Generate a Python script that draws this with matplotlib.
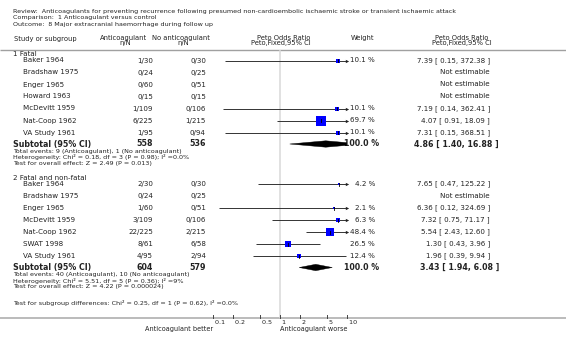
import matplotlib
matplotlib.use("Agg")
import matplotlib.pyplot as plt
import numpy as np
from matplotlib.patches import Polygon

nan = np.nan

title_lines = [
    "Review:  Anticoagulants for preventing recurrence following presumed non-cardioembolic ischaemic stroke or transient ischaemic attack",
    "Comparison:  1 Anticoagulant versus control",
    "Outcome:  8 Major extracranial haemorrhage during follow up",
]

# group 1: fatal
fatal_label = "1 Fatal"
fatal_studies = ["Baker 1964", "Bradshaw 1975", "Enger 1965", "Howard 1963",
                 "McDevitt 1959", "Nat-Coop 1962", "VA Study 1961"]
fatal_ev_ac = [1, 0, 0, 0, 1, 6, 1]
fatal_n_ac = [30, 24, 60, 15, 109, 225, 95]
fatal_ev_no = [0, 0, 0, 0, 0, 1, 0]
fatal_n_no = [30, 25, 51, 15, 106, 215, 94]
fatal_weight = [10.1, nan, nan, nan, 10.1, 69.7, 10.1]
fatal_or = [7.39, nan, nan, nan, 7.19, 4.07, 7.31]
fatal_lo = [0.15, nan, nan, nan, 0.14, 0.91, 0.15]
fatal_hi = [372.38, nan, nan, nan, 362.41, 18.09, 368.51]
fatal_pooled = [4.86, 1.40, 16.88]
fatal_notes = [
    "Heterogeneity: Chi\u00b2 = 0.18, df = 3 (P = 0.98); I\u00b2 =0.0%",
    "Test for overall effect: Z = 2.49 (P = 0.013)",
]

# group 2: fatal and non-fatal
all_label = "2 Fatal and non-fatal"
all_studies = ["Baker 1964", "Bradshaw 1975", "Enger 1965", "McDevitt 1959",
               "Nat-Coop 1962", "SWAT 1998", "VA Study 1961"]
all_ev_ac = [2, 0, 1, 3, 22, 8, 4]
all_n_ac = [30, 24, 60, 109, 225, 61, 95]
all_ev_no = [0, 0, 0, 0, 2, 6, 2]
all_n_no = [30, 25, 51, 106, 215, 58, 94]
all_weight = [4.2, nan, 2.1, 6.3, 48.4, 26.5, 12.4]
all_or = [7.65, nan, 6.36, 7.32, 5.54, 1.30, 1.96]
all_lo = [0.47, nan, 0.12, 0.75, 2.43, 0.43, 0.39]
all_hi = [125.22, nan, 324.69, 71.17, 12.60, 3.96, 9.94]
all_pooled = [3.43, 1.94, 6.08]
all_notes = [
    "Heterogeneity: Chi\u00b2 = 5.51, df = 5 (P = 0.36); I\u00b2 =9%",
    "Test for overall effect: Z = 4.22 (P = 0.000024)",
]

subgroup_note = "Test for subgroup differences: Chi\u00b2 = 0.25, df = 1 (P = 0.62), I\u00b2 =0.0%"
axis_ticks = [0.1, 0.2, 0.5, 1, 2, 5, 10]
axis_ticklabels = ["0.1", "0.2", "0.5", "1", "2", "5", "10"]
favours_left = "Anticoagulant better"
favours_right = "Anticoagulant worse"

W, H = 566, 341
TXT = "#222222"
FS = 5.1      # study rows
FS_NOTE = 4.6
FS_BOLD = 5.7

fig = plt.figure(figsize=(W / 100, H / 100), dpi=100)
ax = fig.add_axes([0, 0, 1, 1])
ax.set_xlim(0, W)
ax.set_ylim(H, 0)
ax.axis("off")

# forest axes: 1 at px 280, 66.7 px per decade
fx = fig.add_axes([200 / W, 0, 160 / W, 1])
fx.set_xscale("log")
fx.set_xlim(10 ** -1.2, 10 ** 1.2)
fx.set_ylim(H, 0)
fx.axis("off")
fx.patch.set_alpha(0)
XMAX = 10.0


def txt(x, y, s, ha="left", size=FS, weight="normal"):
    ax.text(x, y, s, ha=ha, va="center", fontsize=size, color=TXT, fontweight=weight)


# titles
for i, line in enumerate(title_lines):
    txt(13, 11.5 + 6.5 * i, line, size=4.6)

# column headers
txt(14, 38.5, "Study or subgroup", size=4.9)
txt(124, 38, "Anticoagulant", ha="center", size=4.9)
txt(125, 43.5, "n/N", ha="center", size=4.9)
txt(181, 38, "No anticoagulant", ha="center", size=4.9)
txt(183, 43.5, "n/N", ha="center", size=4.9)
txt(284, 37.5, "Peto Odds Ratio", ha="center", size=4.9)
txt(281, 43, "Peto,Fixed,95% CI", ha="center", size=4.9)
txt(363, 38, "Weight", ha="center", size=4.9)
txt(462, 37.5, "Peto Odds Ratio", ha="center", size=4.9)
txt(462, 43, "Peto,Fixed,95% CI", ha="center", size=4.9)
ax.plot([0, W], [50, 50], color="#a0a0a0", lw=1.0, solid_capstyle="butt")

# line of no effect
fx.plot([1, 1], [50.5, 317], color="#dcdcdc", lw=1.2, zorder=0)


def draw_diamond(y, est, lo, hi, half=3.2):
    l, c, r = np.log10(lo), np.log10(est), np.log10(hi)
    top = np.log10(XMAX)
    pts = [(l, y), (c, y - half)]
    if r > top:
        yy = half * (r - top) / (r - c)
        pts += [(top, y - yy), (top, y + yy)]
    else:
        pts += [(r, y)]
    pts += [(c, y + half)]
    pts = [(10 ** px, py) for px, py in pts]
    fx.add_patch(Polygon(pts, closed=True, facecolor="black", edgecolor="black", lw=0.3))


def draw_group(y, label, studies, ev_ac, n_ac, ev_no, n_no, weight, orr, lo, hi, pooled, notes):
    txt(13, y, label)
    y += 6.5
    for i, name in enumerate(studies):
        txt(23, y, name)
        txt(153, y, f"{ev_ac[i]}/{n_ac[i]}", ha="right")
        txt(206, y, f"{ev_no[i]}/{n_no[i]}", ha="right")
        if np.isnan(orr[i]):
            txt(490, y, "Not estimable", ha="right")
        else:
            right = min(hi[i], XMAX)
            fx.plot([lo[i], right], [y, y], color="#333333", lw=0.7, solid_capstyle="butt")
            if hi[i] > XMAX:
                fx.plot([XMAX], [y], marker=">", ms=2.4, color="#222222", mew=0)
            side = 10 * np.sqrt(weight[i] / 69.7) * 0.72
            fx.scatter([orr[i]], [y], marker="s", s=side ** 2, color="#0000ff", lw=0, zorder=3)
            fx.plot([orr[i], orr[i]], [y - 1.5, y + 1.5], color="black", lw=0.6, zorder=4)
            txt(375, y, f"{weight[i]:.1f} %", ha="right")
            txt(490, y, f"{orr[i]:.2f} [ {lo[i]:.2f}, {hi[i]:.2f} ]", ha="right")
        y += 12
    y -= 0.5
    txt(13, y, "Subtotal (95% CI)", size=FS_BOLD, weight="bold")
    txt(153, y, f"{sum(n_ac)}", ha="right", size=FS_BOLD, weight="bold")
    txt(206, y, f"{sum(n_no)}", ha="right", size=FS_BOLD, weight="bold")
    draw_diamond(y, *pooled)
    txt(379, y, "100.0 %", ha="right", size=FS_BOLD, weight="bold")
    txt(499, y, f"{pooled[0]:.2f} [ {pooled[1]:.2f}, {pooled[2]:.2f} ]", ha="right",
        size=FS_BOLD, weight="bold")
    y += 7
    txt(13, y, f"Total events: {sum(ev_ac)} (Anticoagulant), {sum(ev_no)} (No anticoagulant)", size=FS_NOTE)
    for note in notes:
        y += 6
        txt(13, y, note, size=FS_NOTE)
    return y


y = draw_group(54, fatal_label, fatal_studies, fatal_ev_ac, fatal_n_ac, fatal_ev_no, fatal_n_no,
               fatal_weight, fatal_or, fatal_lo, fatal_hi, fatal_pooled, fatal_notes)
y = draw_group(y + 14.5, all_label, all_studies, all_ev_ac, all_n_ac, all_ev_no, all_n_no,
               all_weight, all_or, all_lo, all_hi, all_pooled, all_notes)
txt(13, y + 16, subgroup_note, size=FS_NOTE)

# bottom axis
ax.plot([0, W], [317.5, 317.5], color="#a8a8a8", lw=1.1, solid_capstyle="butt")
for t, lab in zip(axis_ticks, axis_ticklabels):
    fx.plot([t, t], [314.5, 317.5], color="#444444", lw=0.7)
    fx.text(t, 322.5, " " + lab, ha="left", va="center", fontsize=4.6, color=TXT)
fx.text(0.1, 329, favours_left, ha="right", va="center", fontsize=4.7, color=TXT)
fx.text(1, 329, favours_right, ha="left", va="center", fontsize=4.7, color=TXT)

fig.savefig("out.png", dpi=100)
